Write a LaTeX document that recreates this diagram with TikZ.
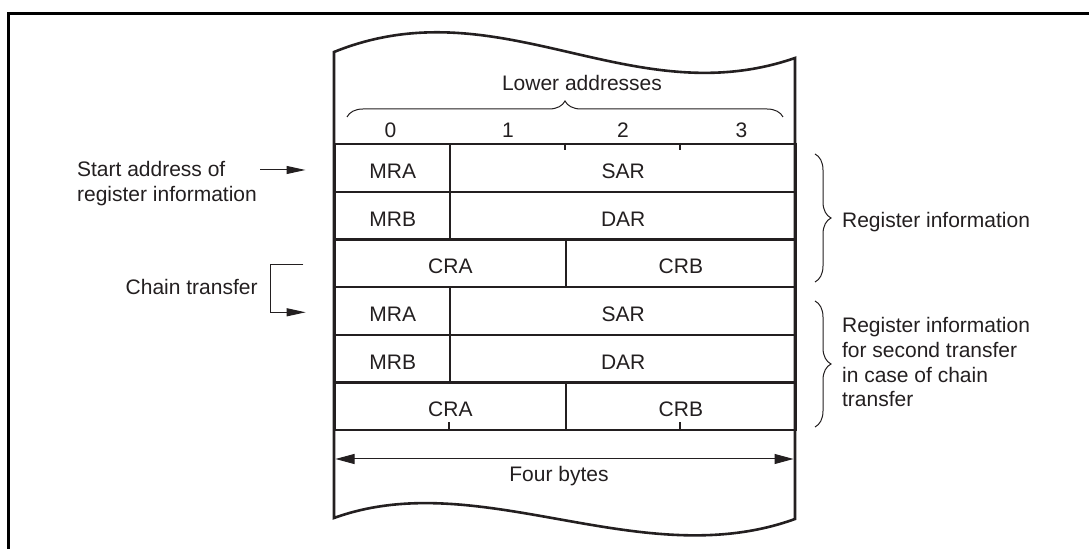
\documentclass[tikz,border=0pt]{standalone}
\usepackage{fontspec}
\setmainfont{Liberation Sans}
\usetikzlibrary{decorations.pathreplacing,arrows.meta}
\definecolor{ink}{RGB}{35,31,32}
\begin{document}
\begin{tikzpicture}[x=0.5pt,y=-0.5pt,
  every node/.style={font=\fontsize{10.5pt}{12.4pt}\selectfont, text=ink, inner sep=0pt},
  cell/.style={draw=ink, line width=1.1pt, minimum height=23.833pt, anchor=north west, text height=10.5pt, text depth=0pt},
  c1/.style={cell, minimum width=57.625pt},
  c2/.style={cell, minimum width=115.25pt},
  c3/.style={cell, minimum width=172.875pt},
  lbl/.style={anchor=base},
  thinln/.style={draw=ink, line width=0.5pt},
  arr/.style={thinln, -{Triangle[length=9.5pt,width=4pt]}},
  dbl/.style={thinln, {Triangle[length=9.5pt,width=5pt]}-{Triangle[length=9.5pt,width=5pt]}},
  brc/.style={thinln, decorate, decoration={brace, amplitude=8pt}},
  tick/.style={draw=ink, line width=1pt},
]
\useasboundingbox (0,0) rectangle (1089,549);
% outer frame
\draw[line width=1.5pt, black] (8.5,549) -- (8.5,14) -- (1089,14);
% memory page
\draw[draw=ink, line width=1.3pt, fill=white]
  (334,52) .. controls (500,-15) and (630,115) .. (795,58)
  -- (795,519) .. controls (640,575) and (480,465) .. (334,518) -- cycle;
% cells
\node[c1] (mra1) at (334,143) {MRA};
\node[c3] (sar1) at (449.25,143) {SAR};
\node[c1] (mrb1) at (334,190.67) {MRB};
\node[c3] (dar1) at (449.25,190.67) {DAR};
\node[c2] (cra1) at (334,238.33) {CRA};
\node[c2] (crb1) at (564.5,238.33) {CRB};
\node[c1] (mra2) at (334,286) {MRA};
\node[c3] (sar2) at (449.25,286) {SAR};
\node[c1] (mrb2) at (334,333.67) {MRB};
\node[c3] (dar2) at (449.25,333.67) {DAR};
\node[c2] (cra2) at (334,381.33) {CRA};
\node[c2] (crb2) at (564.5,381.33) {CRB};
% ticks
\draw[tick] (564.5,143) -- (564.5,150);
\draw[tick] (680,143) -- (680,150);
\draw[tick] (449.25,429) -- (449.25,422);
\draw[tick] (680,429) -- (680,422);
% byte numbers
\node[lbl] (n0) at (390.5,138) {0};
\node[lbl] (n1) at (508,138) {1};
\node[lbl] (n2) at (623,138) {2};
\node[lbl] (n3) at (741.5,138) {3};
% top brace
\draw[brc] (347,117) -- (783,117);
\node[lbl] (low) at (582,91) {Lower addresses};
% left labels
\node[anchor=base west, align=left] (start) at (76.7,201.5) {Start address of\\register information};
\coordinate (saS) at (260,170);
\coordinate (saE) at (305.5,170);
\draw[arr] (saS) -- (saE);
\node[anchor=base east] (chain) at (258,295) {Chain transfer};
\coordinate (chA) at (303.3,264.3);
\coordinate (chB) at (270.7,264.3);
\coordinate (chC) at (270.7,312.3);
\coordinate (chD) at (305.7,312.3);
\draw[arr] (chA) -- (chB) -- (chC) -- (chD);
% right braces
\draw[brc] (815,154) -- (815,282);
\node[anchor=base west] (ri1) at (841.7,227.3) {Register information};
\draw[brc] (815,301) -- (815,427);
\node[anchor=base west, align=left] (ri2) at (841.7,407) {Register information\\for second transfer\\in case of chain\\transfer};
% four bytes
\coordinate (fbL) at (335.5,459);
\coordinate (fbR) at (793.5,459);
\draw[dbl] (fbL) -- (fbR);
\node[lbl] (fb) at (559,482) {Four bytes};
\end{tikzpicture}
\end{document}
